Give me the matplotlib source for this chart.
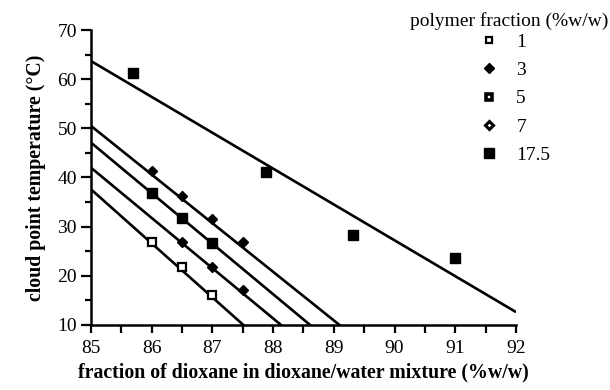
import matplotlib
matplotlib.use("Agg")
import matplotlib.pyplot as plt
from matplotlib.lines import Line2D
import numpy as np

plt.rcParams['font.family'] = ['Liberation Serif', 'DejaVu Serif']

# polymer fractions (%w/w)
labels = ["1", "3", "5", "7", "17.5"]

# measured points (x: dioxane fraction %w/w, y: cloud point °C)
x_1 = [86.0, 86.5, 87.0]
y_1 = [26.8, 21.7, 16.0]
x_3 = [86.5, 87.0, 87.5]
y_3 = [26.8, 21.8, 17.1]
x_5 = [86.0, 86.5, 87.0]
y_5 = [36.9, 31.8, 26.6]
x_7 = [86.0, 86.5, 87.0, 87.5]
y_7 = [41.4, 36.3, 31.6, 26.9]
x_17 = [85.69, 87.88, 89.31, 91.0]
y_17 = [61.2, 41.2, 28.3, 23.6]

# fitted lines: value at x=85 and at x=92 (extrapolated)
line_y85 = [37.6, 42.0, 47.1, 50.5, 63.7]
line_y92 = [-39.4, -29.6, -24.9, -18.8, 12.6]

xs = [x_1, x_3, x_5, x_7, x_17]
ys = [y_1, y_3, y_5, y_7, y_17]
markers = ['s', 'D', 's', 'D', 's']
sizes = [5.6, 4.6, 6.6, 4.6, 7.0]
faces = ['white', 'black', 'black', 'black', 'black']
edgew = [1.6, 1.0, 1.0, 1.0, 1.0]
# legend symbols (as drawn in the key)
leg_faces = ['white', 'black', 'white', 'white', 'black']
leg_sizes = [5.0, 4.6, 4.0, 3.6, 7.0]
leg_edgew = [1.6, 1.0, 2.6, 2.2, 1.0]

fig = plt.figure(figsize=(6.1, 3.9), dpi=100)
ax = fig.add_axes([0.149, 0.167, 0.697, 0.756])

for i in range(5):
    ax.plot([85, 92], [line_y85[i], line_y92[i]], color='black', lw=1.9,
            solid_capstyle='butt', zorder=2)
for i in range(5):
    ax.plot(xs[i], ys[i], linestyle='none', marker=markers[i], ms=sizes[i],
            mfc=faces[i], mec='black', mew=edgew[i], zorder=3)

ax.set_xlim(85, 92)
ax.set_ylim(10, 70)
ax.set_xticks(np.arange(85, 92.1, 1))
ax.set_xticks(np.arange(85, 92.1, 0.5), minor=True)
ax.set_yticks(np.arange(10, 70.1, 10))
ax.set_yticks(np.arange(10, 70.1, 5), minor=True)
for s in ['top', 'right']:
    ax.spines[s].set_visible(False)
for s in ['left', 'bottom']:
    ax.spines[s].set_linewidth(1.8)
ax.tick_params(which='major', direction='out', length=7, width=1.6, labelsize=14, pad=3)
ax.tick_params(which='minor', direction='out', length=4, width=1.6)
ax.tick_params(axis='x', which='both', length=6, pad=5)

ax.set_xlabel("fraction of dioxane in dioxane/water mixture (%w/w)",
              fontweight='bold', fontsize=14.3, labelpad=4)
ax.set_ylabel("cloud point temperature (°C)", fontweight='bold', fontsize=14.3, labelpad=8)

handles = [Line2D([], [], linestyle='none', marker=markers[i], ms=leg_sizes[i],
                  mfc=leg_faces[i], mec='black', mew=leg_edgew[i]) for i in range(5)]
fig.text(0.997, 0.945, "polymer fraction (%w/w)", fontsize=14, ha='right', va='center')
leg = fig.legend(handles, labels, frameon=False, fontsize=14,
                 loc='upper left', bbox_to_anchor=(0.770, 0.94),
                 handlelength=1.0, handletextpad=0.9, labelspacing=0.55, borderpad=0)

fig.savefig("out.png", dpi=100)
